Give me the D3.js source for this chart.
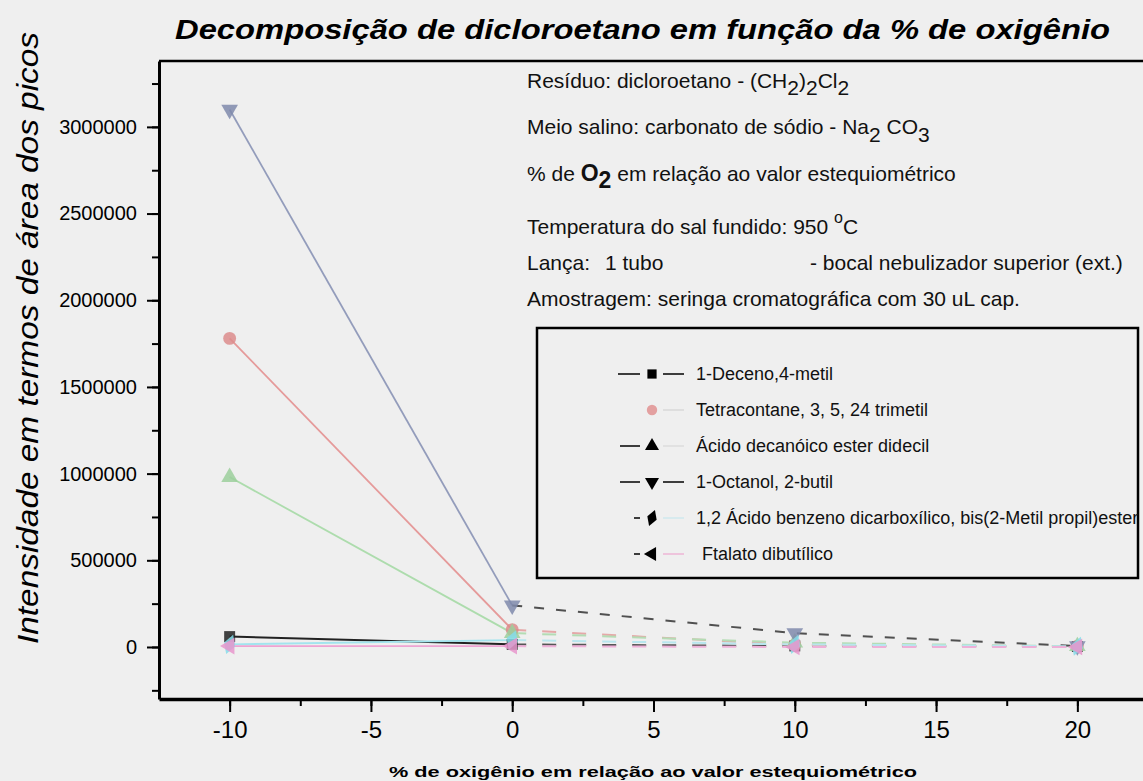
<!DOCTYPE html>
<html lang="pt">
<head>
<meta charset="utf-8">
<script src="https://d3js.org/d3.v7.min.js"></script>
<style>
  body { margin: 0; background: #efefef; }
  svg { display: block; font-family: "Liberation Sans", Arial, sans-serif; }
  .axis path, .axis line { stroke: #000; }
  .axis text { fill: #000; }
</style>
</head>
<body>
<script>
// valores
var oxigenio = [-10, 0, 10, 20];

var compostos = ["1-Deceno,4-metil", "Tetracontane, 3, 5, 24 trimetil", "Ácido decanóico ester didecil",
  "1-Octanol, 2-butil", "1,2 Ácido benzeno dicarboxílico, bis(2-Metil propil)ester", "Ftalato dibutílico"];

var deceno      = [60000, 15000, 6000, 3000];
var tetracont   = [1780000, 100000, 12000, 5000];
var decanoico   = [980000, 80000, 25000, 4000];
var octanol     = [3100000, 240000, 80000, 5000];
var benzeno     = [15000, 40000, 15000, 4000];
var ftalato     = [5000, 5000, 0, 0];

var xTicks = [-10, -5, 0, 5, 10, 15, 20];
var yTicks = [0, 500000, 1000000, 1500000, 2000000, 2500000, 3000000];

var series = [deceno, tetracont, decanoico, octanol, benzeno, ftalato];
var cores    = ["#222222", "#e59a9a", "#addcad", "#939cbb", "#a2e4ee", "#eea3d2"];
var coresMarc = ["#222222", "#dc8c8c", "#9ccf9c", "#7f8aac", "#86dcea", "#e896cc"];
var coresTraco = ["#555555", "#e5a8a8", "#b4dcb4", "#505050", "#b8e6ee", "#eeb0d8"];

var width = 1143, height = 781;

var svg = d3.select("body").append("svg")
    .attr("width", width)
    .attr("height", height);

var x = d3.scaleLinear().domain([-12.5, 22.5]).range([159, 1148]);
var y = d3.scaleLinear().domain([-300000, 3380000]).range([699, 61]);

// moldura superior
svg.append("line")
  .attr("x1", x(-12.5)).attr("x2", width)
  .attr("y1", y(3380000)).attr("y2", y(3380000))
  .attr("stroke", "#000").attr("stroke-width", 2.5);

// eixo y
var yMinor = d3.range(-250000, 3370000, 250000);
svg.append("g").attr("class", "axis")
  .attr("transform", "translate(" + x(-12.5) + ",0)")
  .call(d3.axisLeft(y).tickValues(yMinor).tickSize(7).tickFormat(""))
  .call(g => g.select(".domain").remove())
  .selectAll("line").attr("stroke-width", 2);

var yAxis = svg.append("g").attr("class", "axis")
  .attr("transform", "translate(" + x(-12.5) + ",0)")
  .call(d3.axisLeft(y).tickValues(yTicks).tickSize(12).tickSizeOuter(0).tickPadding(10).tickFormat(d => String(d)));
yAxis.select(".domain").attr("stroke-width", 3);
yAxis.selectAll("line").attr("stroke-width", 2);
yAxis.selectAll("text").style("font-size", "20px");

// eixo x
var xMinor = d3.range(-10, 22.6, 2.5);
svg.append("g").attr("class", "axis")
  .attr("transform", "translate(0," + y(-300000) + ")")
  .call(d3.axisBottom(x).tickValues(xMinor).tickSize(7).tickFormat(""))
  .call(g => g.select(".domain").remove())
  .selectAll("line").attr("stroke-width", 2);

var xAxis = svg.append("g").attr("class", "axis")
  .attr("transform", "translate(0," + y(-300000) + ")")
  .call(d3.axisBottom(x).tickValues(xTicks).tickSize(13).tickSizeOuter(0).tickPadding(9).tickFormat(d => String(d)));
xAxis.select(".domain").attr("stroke-width", 3.5);
xAxis.selectAll("line").attr("stroke-width", 2);
xAxis.selectAll("text").style("font-size", "24px");

// linhas das séries
var linha = d3.line().x(d => x(d[0])).y(d => y(d[1]));

series.forEach(function(s, i) {
  var pts = oxigenio.map((o, k) => [o, s[k]]);
  svg.append("path")
    .attr("d", linha(pts.slice(0, 2)))
    .attr("fill", "none")
    .attr("stroke", cores[i])
    .attr("stroke-width", i == 0 ? 2 : 1.8);
  svg.append("path")
    .attr("d", linha(pts.slice(1)))
    .attr("fill", "none")
    .attr("stroke", coresTraco[i])
    .attr("stroke-width", 2)
    .attr("stroke-dasharray", i == 3 ? "10,12" : "14,16");
});

// símbolos
var simbolos = [
  {type: d3.symbolSquare, rot: 0},
  {type: d3.symbolCircle, rot: 0},
  {type: d3.symbolTriangle, rot: 0},
  {type: d3.symbolTriangle, rot: 180},
  {type: d3.symbolDiamond, rot: 20},
  {type: d3.symbolTriangle, rot: -90}
];

series.forEach(function(s, i) {
  svg.append("g").selectAll("path")
    .data(oxigenio.map((o, k) => [o, s[k]]))
    .enter().append("path")
      .attr("d", d3.symbol().type(simbolos[i].type).size(i == 1 ? 130 : 120))
      .attr("transform", d => "translate(" + x(d[0]) + "," + y(d[1]) + ") rotate(" + simbolos[i].rot + ")")
      .attr("fill", coresMarc[i])
      .attr("opacity", 0.85);
});

// título
svg.append("text")
  .attr("x", 175).attr("y", 39)
  .attr("textLength", 935).attr("lengthAdjust", "spacingAndGlyphs")
  .style("font-size", "27px").style("font-weight", "bold").style("font-style", "italic")
  .text("Decomposição de dicloroetano em função da % de oxigênio");

// título eixo y
svg.append("text")
  .attr("transform", "translate(38,338) rotate(-90)")
  .attr("text-anchor", "middle")
  .attr("textLength", 612).attr("lengthAdjust", "spacingAndGlyphs")
  .style("font-size", "29px").style("font-style", "italic")
  .text("Intensidade em termos de área dos picos");

// título eixo x
svg.append("text")
  .attr("x", 653).attr("y", 777)
  .attr("text-anchor", "middle")
  .attr("textLength", 528).attr("lengthAdjust", "spacingAndGlyphs")
  .style("font-size", "14px").style("font-weight", "bold")
  .text("% de oxigênio em relação ao valor estequiométrico");

// notas
var nx = 527;
var notas = svg.append("g").style("font-size", "21px").attr("fill", "#111");

function nota(yy) {
  return notas.append("text").attr("x", nx).attr("y", yy);
}

var n1 = nota(88);
n1.append("tspan").text("Resíduo: dicloroetano - (CH");
n1.append("tspan").text("2").attr("dy", 7);
n1.append("tspan").text(")").attr("dy", -7);
n1.append("tspan").text("2").attr("dy", 7);
n1.append("tspan").text("Cl").attr("dy", -7);
n1.append("tspan").text("2").attr("dy", 7);

var n2 = nota(134);
n2.append("tspan").text("Meio salino: carbonato de sódio - Na");
n2.append("tspan").text("2").attr("dy", 8);
n2.append("tspan").text(" CO").attr("dy", -8);
n2.append("tspan").text("3").attr("dy", 8);

var n3 = nota(181);
n3.append("tspan").text("% de ");
n3.append("tspan").text("O").style("font-weight", "bold").style("font-size", "23px");
n3.append("tspan").text("2").attr("dy", 7).style("font-weight", "bold").style("font-size", "23px");
n3.append("tspan").text(" em relação ao valor estequiométrico").attr("dy", -7);

var n4 = nota(234);
n4.append("tspan").text("Temperatura do sal fundido:  950 ");
n4.append("tspan").text("o").attr("dy", -11).style("font-size", "16px");
n4.append("tspan").text("C").attr("dy", 11);

var n5 = nota(270);
n5.append("tspan").text("Lança:");
n5.append("tspan").attr("x", 605).text("1 tubo");
n5.append("tspan").attr("x", 810).text("- bocal nebulizador superior (ext.)");

nota(306).text("Amostragem: seringa cromatográfica com 30 uL cap.");

// legenda
var leg = svg.append("g");
leg.append("rect")
  .attr("x", 537).attr("y", 328).attr("width", 601).attr("height", 250)
  .attr("fill", "none").attr("stroke", "#000").attr("stroke-width", 2.5);

var legY = [374, 410, 446, 482, 518, 554];
var legEsq = ["#000", "none", "#000", "#000", "#000", "#000"];
var legDir = ["#000", "#d8d8d8", "#dcdcdc", "#000", "#cfe8ee", "#eeb6d6"];
var legEsqX = [618, 618, 620, 620, 634, 634];

compostos.forEach(function(nome, i) {
  var g = leg.append("g").attr("transform", "translate(0," + legY[i] + ")");
  g.append("line").attr("x1", legEsqX[i]).attr("x2", 640).attr("y1", 0).attr("y2", 0)
    .attr("stroke", legEsq[i]).attr("stroke-width", 1.5);
  g.append("line").attr("x1", 663).attr("x2", 684).attr("y1", 0).attr("y2", 0)
    .attr("stroke", legDir[i]).attr("stroke-width", 1.5);
  g.append("path")
    .attr("d", d3.symbol().type(simbolos[i].type).size(85))
    .attr("transform", "translate(652,0) rotate(" + simbolos[i].rot + ")")
    .attr("fill", i == 1 ? "#e3a0a0" : "#000");
  g.append("text")
    .attr("x", i == 5 ? 702 : 696).attr("y", 6)
    .style("font-size", "18px").attr("fill", "#111")
    .text(nome);
});
</script>
</body>
</html>
